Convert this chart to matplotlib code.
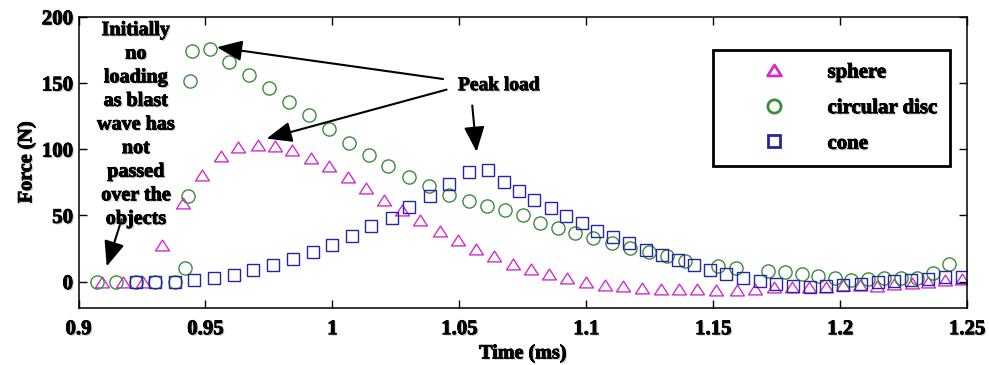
import matplotlib
matplotlib.use('Agg')
import matplotlib.pyplot as plt
import matplotlib.patheffects as pe
from matplotlib.path import Path
from matplotlib.ticker import FixedLocator, FormatStrFormatter

plt.rcParams['font.family'] = ['Liberation Serif', 'DejaVu Serif']
plt.rcParams['font.weight'] = 'bold'
plt.rcParams['axes.labelweight'] = 'bold'
plt.rcParams['font.size'] = 14

# Force (N) against time (ms)
sphere_t = [0.9093, 0.9174, 0.9253, 0.9329, 0.941, 0.9486, 0.9561, 0.963, 0.9708, 0.9774,
            0.9842, 0.9917, 0.9988, 1.006, 1.0131, 1.0203, 1.0275, 1.0347, 1.0422, 1.0494,
            1.0566, 1.0638, 1.071, 1.0782, 1.0854, 1.0923, 1.1, 1.1072, 1.1143, 1.1218,
            1.1293, 1.1365, 1.1438, 1.151, 1.1592, 1.1664, 1.174, 1.1811, 1.1877, 1.1945,
            1.2011, 1.2077, 1.2146, 1.2214, 1.2282, 1.2345, 1.2415, 1.248]
sphere_f = [0, 0, 0, 28, 59, 80.7, 94.5, 101.6, 103.3, 102.6,
            99.5, 93.3, 87, 79, 70.7, 61.8, 54.3, 46.2, 38.5, 31.2,
            24.6, 19.1, 13.6, 9.6, 5.8, 2.8, -0.5, -2.3, -3.5, -4.8,
            -5.3, -5.5, -5.5, -6, -6, -5.5, -4, -4, -4, -4,
            -2.3, -2.3, -3, -1.5, -1, -0.5, 1.5, 2]

disc_t = [0.9074, 0.9149, 0.9226, 0.9303, 0.9379, 0.9421, 0.943, 0.944, 0.9448, 0.9519,
          0.9594, 0.9672, 0.9751, 0.9829, 0.9908, 0.9987, 1.0065, 1.0144, 1.022, 1.0301,
          1.038, 1.0458, 1.0537, 1.0609, 1.0681, 1.0749, 1.0819, 1.0887, 1.0956, 1.1028,
          1.11, 1.1174, 1.1246, 1.1317, 1.1389, 1.152, 1.1588, 1.1716, 1.1782, 1.1848,
          1.1912, 1.1978, 1.2044, 1.2108, 1.2173, 1.2239, 1.2302, 1.2365, 1.2429]
disc_f = [0, 0, 0, 0, 0, 10.3, 64.5, 151.8, 174, 175.7,
          165.7, 156, 146, 136, 126, 115.4, 104.6, 95.3, 87, 79,
          71.9, 65.1, 61, 56.8, 53.8, 50, 44.5, 40.5, 36.5, 32.7,
          29.2, 25.6, 22.6, 19, 15.9, 11.5, 10.5, 7.8, 7, 5.5,
          4, 2.5, 1.5, 1.8, 2.4, 2.4, 3, 6.2, 13]

cone_t = [0.9227, 0.9303, 0.9379, 0.9456, 0.9535, 0.9613, 0.9689, 0.9765, 0.9845, 0.9923,
          1.0, 1.0078, 1.0154, 1.0233, 1.0301, 1.0386, 1.0461, 1.054, 1.0612, 1.0675,
          1.0736, 1.0796, 1.086, 1.0922, 1.0982, 1.1044, 1.1107, 1.117, 1.1234, 1.13,
          1.136, 1.1424, 1.1489, 1.1552, 1.1618, 1.1684, 1.1749, 1.1814, 1.1882, 1.1945,
          1.2011, 1.2081, 1.2149, 1.2214, 1.228, 1.2348, 1.2415, 1.248]
cone_f = [0, 0, 0, 1, 2.8, 5.3, 8.4, 12.3, 17.1, 22.4,
          27.9, 34.7, 41.7, 48, 56.2, 64.3, 73.7, 82.7, 84.5, 75.2,
          68.6, 61.3, 55.3, 49.2, 44.3, 38.5, 33.7, 29.2, 24.1, 19.8,
          16.1, 12.3, 8.5, 5.6, 2.8, 0.2, -1.8, -3.5, -4, -3.5,
          -2.3, -1.5, -0.3, 0.8, 1.5, 2.3, 3.3, 3.3]

x_ticks = [0.9, 0.95, 1.0, 1.05, 1.1, 1.15, 1.2, 1.25]
y_ticks = [0, 50, 100, 150, 200]

note_text = 'Initially\nno\nloading\nas blast\nwave has\nnot\npassed\nover the\nobjects'

# heavy text with a soft grey shadow, like the scanned original
heavy = [pe.withSimplePatchShadow(offset=(1, -1), shadow_rgbFace='0.55', alpha=0.5),
         pe.withStroke(linewidth=0.6, foreground='black')]

# wide, flat triangle like the original
tri = Path([(-1, -0.78), (1, -0.78), (0, 0.78), (0, 0)], closed=True)

fig = plt.figure(figsize=(9.89, 3.65), dpi=100)
ax = fig.add_axes([0.0794, 0.156, 0.8984, 0.798])

ax.plot(sphere_t, sphere_f, linestyle='none', marker=tri, markersize=10,
        markerfacecolor='none', markeredgecolor='#d02cd0', markeredgewidth=1.0, label='sphere')
ax.plot(disc_t, disc_f, linestyle='none', marker='o', markersize=9.5,
        markerfacecolor='none', markeredgecolor='#3d8a3d', markeredgewidth=1.0, label='circular disc')
ax.plot(cone_t, cone_f, linestyle='none', marker='s', markersize=8,
        markerfacecolor='none', markeredgecolor='#2424a6', markeredgewidth=1.0, label='cone')

ax.set_xlim(0.9, 1.25)
ax.set_ylim(-20, 200)
ax.xaxis.set_major_locator(FixedLocator(x_ticks))
ax.xaxis.set_major_formatter(FormatStrFormatter('%g'))
ax.yaxis.set_major_locator(FixedLocator(y_ticks))
ax.tick_params(direction='in', top=True, right=True, length=6, width=1, labelsize=15)
ax.tick_params(axis='x', pad=8)
ax.tick_params(axis='y', pad=4)
for s in ax.spines.values():
    s.set_linewidth(1.1)
for lab in ax.get_xticklabels() + ax.get_yticklabels():
    lab.set_path_effects(heavy)

ax.set_xlabel('Time (ms)', fontsize=14.5, labelpad=3, path_effects=heavy)
ax.set_ylabel('Force (N)', fontsize=14.5, labelpad=4, path_effects=heavy)

leg = ax.legend(loc='upper left', bbox_to_anchor=(0.714, 0.886), borderaxespad=0,
                fancybox=False, edgecolor='black', framealpha=1, numpoints=1, fontsize=15,
                handlelength=4.7, handletextpad=0.2, labelspacing=0.75, borderpad=0.6)
leg.get_frame().set_linewidth(2)
for h in leg.legend_handles:
    h.set_markeredgewidth(2)
for t in leg.get_texts():
    t.set_path_effects(heavy)

arrow = dict(arrowstyle='-|>,head_length=1.1,head_width=0.45', color='black', lw=1.5,
             shrinkA=0, shrinkB=0)
ax.annotate('', xy=(0.9545, 177), xytext=(1.0436, 153), arrowprops=arrow)
ax.annotate('', xy=(0.9741, 108), xytext=(1.045, 145), arrowprops=arrow)
ax.annotate('', xy=(1.0568, 98), xytext=(1.0551, 133), arrowprops=arrow)
ax.annotate('', xy=(0.9111, 11.5), xytext=(0.917, 47), arrowprops=arrow)

ax.text(1.0495, 148, 'Peak load', ha='left', va='center', path_effects=heavy)
ax.text(0.9226, 197.5, note_text, ha='center', va='top', fontsize=14.5, linespacing=1.24,
        path_effects=heavy)

fig.savefig('out.png', dpi=100)
